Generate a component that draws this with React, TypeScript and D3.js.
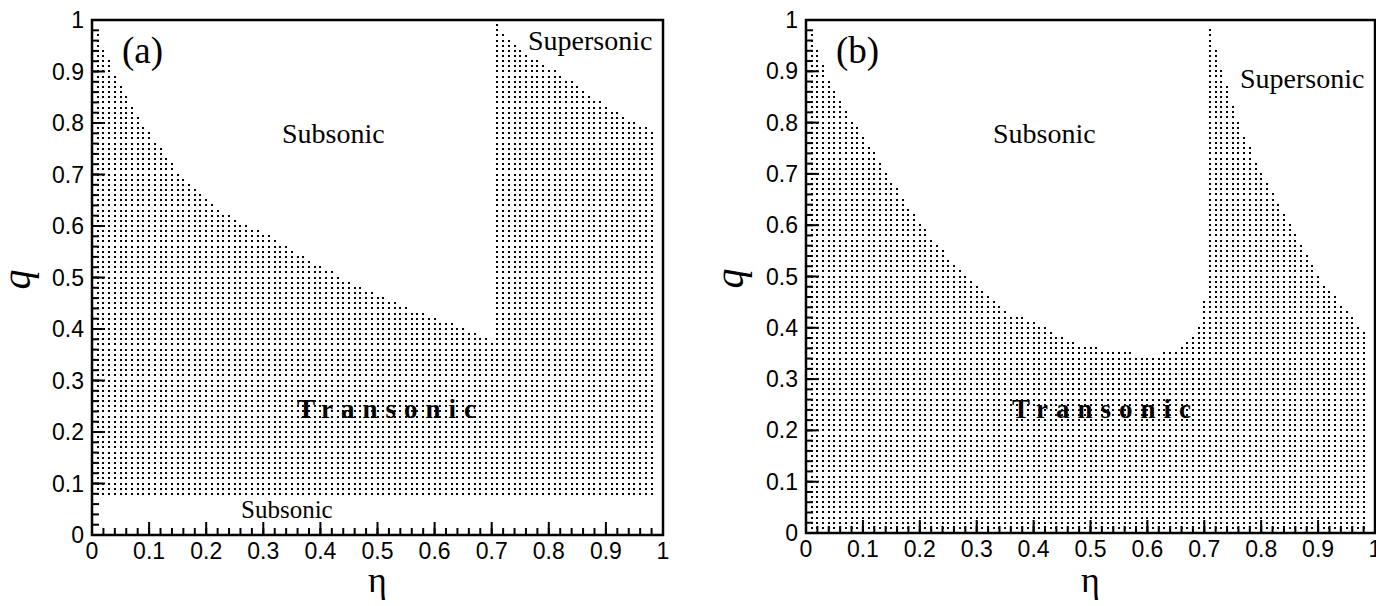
import React from "react";
import * as d3 from "d3";

// upper edge of the transonic band in panel (a)
const etaTopA = [0, 0.01, 0.02, 0.03, 0.04, 0.05, 0.06, 0.07, 0.08, 0.09, 0.1, 0.12, 0.15, 0.2, 0.25, 0.3, 0.35, 0.4, 0.45, 0.5, 0.55, 0.6, 0.65, 0.7, 0.704, 0.706, 0.72, 0.73, 0.75, 0.77, 0.8, 0.83, 0.85, 0.9, 0.95, 0.98, 1];
const qTopA = [1, 0.975, 0.94, 0.92, 0.89, 0.87, 0.85, 0.83, 0.815, 0.795, 0.78, 0.75, 0.705, 0.65, 0.61, 0.585, 0.55, 0.52, 0.49, 0.465, 0.44, 0.42, 0.4, 0.375, 0.37, 0.995, 0.975, 0.96, 0.94, 0.925, 0.905, 0.885, 0.87, 0.83, 0.8, 0.785, 0.785];
const qLowA = 0.08;

// same for panel (b)
const etaTopB = [0, 0.01, 0.02, 0.03, 0.04, 0.05, 0.06, 0.08, 0.1, 0.15, 0.2, 0.25, 0.3, 0.33, 0.35, 0.37, 0.4, 0.42, 0.44, 0.46, 0.49, 0.54, 0.58, 0.62, 0.65, 0.67, 0.69, 0.7, 0.705, 0.707, 0.71, 0.72, 0.73, 0.74, 0.75, 0.76, 0.77, 0.8, 0.85, 0.9, 0.95, 1];
const qTopB = [1, 0.975, 0.94, 0.91, 0.885, 0.865, 0.845, 0.805, 0.77, 0.685, 0.6, 0.535, 0.48, 0.45, 0.43, 0.42, 0.41, 0.4, 0.385, 0.372, 0.362, 0.352, 0.345, 0.345, 0.355, 0.37, 0.4, 0.45, 0.6, 0.99, 0.985, 0.94, 0.9, 0.87, 0.83, 0.8, 0.77, 0.7, 0.6, 0.5, 0.43, 0.37];
const qLowB = 0;

const majorTicks = [0, 0.1, 0.2, 0.3, 0.4, 0.5, 0.6, 0.7, 0.8, 0.9, 1];
const tickLabels = ["0", "0.1", "0.2", "0.3", "0.4", "0.5", "0.6", "0.7", "0.8", "0.9", "1"];
const minorTicks = d3.range(0, 51).map((i) => i / 50);

// dot grid used as the fill of the transonic region
const gridEta = d3.range(0, 99).map((i) => i / 100);
const gridQ = d3.range(0, 101).map((j) => j / 100);

const serif = "'Liberation Serif', 'Times New Roman', serif";
const sans = "'Liberation Sans', Arial, sans-serif";

type Note = { text: string; x: number; y: number; size: number; bold?: boolean; spacing?: number };

function Panel(props: {
  x0: number; x1: number; y0: number; y1: number;
  etaTop: number[]; qTop: number[]; qLow: number;
  notes: Note[]; qx: number;
}) {
  const { x0, x1, y0, y1, etaTop, qTop, qLow, notes, qx } = props;
  const x = d3.scaleLinear().domain([0, 1]).range([x0, x1]);
  const y = d3.scaleLinear().domain([0, 1]).range([y1, y0]);

  const top: [number, number][] = etaTop.map((e, i) => [e, qTop[i] + 0.004]);
  const poly: [number, number][] = [
    [-0.01, qLow - 0.005],
    [1.01, qLow - 0.005],
    [1.01, top[top.length - 1][1]],
    ...top.slice().reverse(),
    [-0.01, top[0][1]],
  ];

  const dots: [number, number][] = [];
  gridEta.forEach((e) => {
    gridQ.forEach((q) => {
      if (d3.polygonContains(poly, [e, q])) dots.push([e, q]);
    });
  });

  return (
    <g>
      <g shapeRendering="crispEdges">
        {dots.map(([e, q], i) => (
          <rect key={i} x={Math.round(x(e)) - 1} y={Math.round(y(q)) - 1} width={2} height={2} fill="#000" />
        ))}
      </g>
      {notes.map((n, i) => (
        <text key={i} x={n.x} y={n.y} fontFamily={serif} fontSize={n.size}
          fontWeight={n.bold ? "bold" : "normal"} letterSpacing={n.spacing || 0}>{n.text}</text>
      ))}
      {minorTicks.map((t, i) => (
        <g key={"m" + i} stroke="#000" strokeWidth={2}>
          <line x1={x(t)} x2={x(t)} y1={y1} y2={y1 - 7} />
          <line x1={x0} x2={x0 + 7} y1={y(t)} y2={y(t)} />
        </g>
      ))}
      {majorTicks.map((t, i) => (
        <g key={"M" + i}>
          <line x1={x(t)} x2={x(t)} y1={y1} y2={y1 - 13} stroke="#000" strokeWidth={2} />
          <line x1={x0} x2={x0 + 13} y1={y(t)} y2={y(t)} stroke="#000" strokeWidth={2} />
          <text x={x(t)} y={y1 + 24} textAnchor="middle" fontFamily={sans} fontSize={23}>{tickLabels[i]}</text>
          <text x={x0 - 8} y={y(t)} textAnchor="end" dominantBaseline="central" fontFamily={sans} fontSize={23}>{tickLabels[i]}</text>
        </g>
      ))}
      <rect x={x0} y={y0} width={x1 - x0} height={y1 - y0} fill="none" stroke="#000" strokeWidth={2.5} />
      <text transform={`translate(${qx},${(y0 + y1) / 2 + 2}) rotate(-90)`} textAnchor="middle"
        fontFamily={serif} fontStyle="italic" fontSize={40}>q</text>
      <text x={(x0 + x1) / 2} y={592} textAnchor="middle" fontFamily={serif} fontSize={36}>η</text>
    </g>
  );
}

export default function App() {
  const notesA: Note[] = [
    { text: "(a)", x: 122, y: 63, size: 37 },
    { text: "Subsonic", x: 282, y: 143, size: 28 },
    { text: "Supersonic", x: 528, y: 50, size: 28 },
    { text: "Transonic", x: 297, y: 418, size: 27, bold: true, spacing: 8 },
    { text: "Subsonic", x: 241, y: 518, size: 25 },
  ];
  const notesB: Note[] = [
    { text: "(b)", x: 836, y: 63, size: 37 },
    { text: "Subsonic", x: 993, y: 143, size: 28 },
    { text: "Supersonic", x: 1240, y: 88, size: 28 },
    { text: "Transonic", x: 1012, y: 418, size: 27, bold: true, spacing: 8 },
  ];
  return (
    <svg width={1376} height={606} style={{ position: "absolute", left: 0, top: 0, background: "#fff" }}>
      <rect width={1376} height={606} fill="#fff" />
      <Panel x0={92} x1={663} y0={20} y1={535} etaTop={etaTopA} qTop={qTopA} qLow={qLowA} notes={notesA} qx={30} />
      <Panel x0={806} x1={1375} y0={20} y1={533} etaTop={etaTopB} qTop={qTopB} qLow={qLowB} notes={notesB} qx={743} />
    </svg>
  );
}
